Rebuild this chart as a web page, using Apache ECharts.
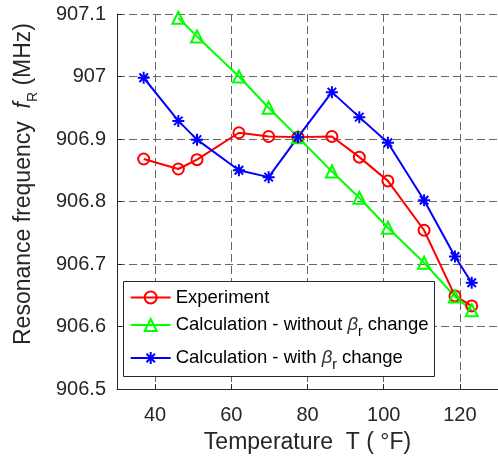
<!DOCTYPE html>
<html>
<head>
<meta charset="utf-8">
<script src="https://cdn.jsdelivr.net/npm/echarts@6/dist/echarts.min.js"></script>
<style>
  html, body { margin: 0; padding: 0; background: #fff; }
  #chart { width: 498px; height: 463px; }
</style>
</head>
<body>
<div id="chart"></div>
<script>
// Measurement temperatures (°F) and resonance frequencies (MHz)
const temperature = [37.0, 46.1, 51.0, 62.0, 69.8, 77.5, 86.4, 93.6, 101.1, 110.6, 118.7, 123.1];
const experiment  = [906.868, 906.852, 906.867, 906.910, 906.904, 906.903, 906.904, 906.871, 906.833, 906.754, 906.649, 906.633];
const calcWithout = [null, 907.094, 907.064, 907.000, 906.950, 906.903, 906.848, 906.806, 906.758, 906.702, 906.648, 906.626];
const calcWith    = [906.998, 906.929, 906.899, 906.850, 906.839, 906.903, 906.975, 906.935, 906.894, 906.802, 906.712, 906.670];
const xTicks = [40, 60, 80, 100, 120];
const seriesNames = ['Experiment', 'Calculation - without βr change', 'Calculation - with βr change'];

const FONT = 'Liberation Sans, Arial, Helvetica, sans-serif';
const AXIS_COLOR = '#262626';

function pairs(ys) {
  return temperature.map((t, i) => [t, ys[i]]).filter(p => p[1] != null);
}

// MATLAB-style asterisk marker: plus and cross strokes
const starPath = 'path://M0,-10L0,10M-10,0L10,0M-7.07,-7.07L7.07,7.07M-7.07,7.07L7.07,-7.07';

const richLegend = {
  n: { fontSize: 18.5, lineHeight: 28, fontFamily: FONT, color: '#000' },
  b: { fontSize: 18.5, lineHeight: 28, fontFamily: FONT, fontStyle: 'italic', color: '#333' },
  s: { fontSize: 14, lineHeight: 14, fontFamily: FONT, color: '#000', verticalAlign: 'bottom' }
};

function legendLabel(name) {
  if (name.indexOf('βr') >= 0) {
    const parts = name.split('βr');
    return '{n|' + parts[0] + '}{b|β}{s|r}{n|' + parts[1] + '}';
  }
  return '{n|' + name + '}';
}

const legendCenters = [297.5, 325, 358];

const chart = echarts.init(document.getElementById('chart'), null, { renderer: 'canvas' });

chart.setOption({
  backgroundColor: '#fff',
  animation: false,
  grid: { left: 117, top: 14, width: 388, height: 375, containLabel: false },
  xAxis: {
    type: 'value',
    min: 30,
    max: 130,
    axisLine: { show: true, onZero: false, lineStyle: { color: AXIS_COLOR, width: 1 } },
    axisTick: { show: true, inside: true, length: 5, customValues: xTicks, lineStyle: { color: AXIS_COLOR } },
    axisLabel: { customValues: xTicks, color: AXIS_COLOR, fontSize: 20, fontFamily: FONT, margin: 16 },
    splitLine: { show: true, customValues: xTicks, lineStyle: { color: '#666', width: 1, type: [8, 4] } },
    name: 'Temperature  T ( °F)',
    nameLocation: 'middle',
    nameGap: 42,
    nameTextStyle: { color: AXIS_COLOR, fontSize: 23, fontFamily: FONT }
  },
  yAxis: {
    type: 'value',
    min: 906.5,
    max: 907.1,
    interval: 0.1,
    axisLine: { show: true, lineStyle: { color: AXIS_COLOR, width: 1 } },
    axisTick: { show: true, inside: true, length: 5, lineStyle: { color: AXIS_COLOR } },
    axisLabel: { color: AXIS_COLOR, fontSize: 20, fontFamily: FONT, margin: 11 },
    splitLine: { show: true, lineStyle: { color: '#666', width: 1, type: [8, 4] } }
  },
  legend: [0, 1, 2].map(i => ({
    data: [seriesNames[i]],
    left: 129.7,
    top: legendCenters[i] - 14,
    padding: 0,
    itemWidth: 40,
    itemHeight: 15,
    itemGap: 0,
    z: 20,
    selectedMode: false,
    formatter: legendLabel,
    textStyle: { fontSize: 18.5, lineHeight: 28, fontFamily: FONT, color: '#000', rich: richLegend }
  })),
  graphic: [
    {
      type: 'rect',
      z: 10,
      shape: { x: 123.5, y: 281.5, width: 311, height: 95 },
      style: { fill: '#fff', stroke: AXIS_COLOR, lineWidth: 1 }
    },
    {
      type: 'text',
      z: 10,
      x: 23.5,
      y: 184,
      rotation: Math.PI / 2,
      style: {
        text: '{n|Resonance frequency  }{i|f}{s|R}{n| (MHz)}',
        align: 'center',
        verticalAlign: 'middle',
        fill: AXIS_COLOR,
        rich: {
          n: { fontSize: 23, lineHeight: 34, fontFamily: FONT, fill: AXIS_COLOR },
          i: { fontSize: 23, lineHeight: 34, fontFamily: FONT, fontStyle: 'italic', fill: AXIS_COLOR },
          s: { fontSize: 14, lineHeight: 14, fontFamily: FONT, fill: AXIS_COLOR, verticalAlign: 'bottom' }
        }
      }
    }
  ],
  series: [
    {
      name: seriesNames[0],
      type: 'line',
      data: pairs(experiment),
      symbol: 'circle',
      symbolSize: 11,
      lineStyle: { color: '#ff0000', width: 2 },
      itemStyle: { color: 'rgba(255,255,255,0)', borderColor: '#ff0000', borderWidth: 2 },
      emphasis: { disabled: true }
    },
    {
      name: seriesNames[1],
      type: 'line',
      data: pairs(calcWithout),
      symbol: 'triangle',
      symbolSize: 12,
      lineStyle: { color: '#00ff00', width: 2 },
      itemStyle: { color: 'rgba(255,255,255,0)', borderColor: '#00ff00', borderWidth: 2 },
      emphasis: { disabled: true }
    },
    {
      name: seriesNames[2],
      type: 'line',
      data: pairs(calcWith),
      symbol: starPath,
      symbolSize: 12,
      lineStyle: { color: '#0000ff', width: 2 },
      itemStyle: { color: '#0000ff', borderColor: '#0000ff', borderWidth: 2 },
      emphasis: { disabled: true }
    }
  ]
});
</script>
</body>
</html>
